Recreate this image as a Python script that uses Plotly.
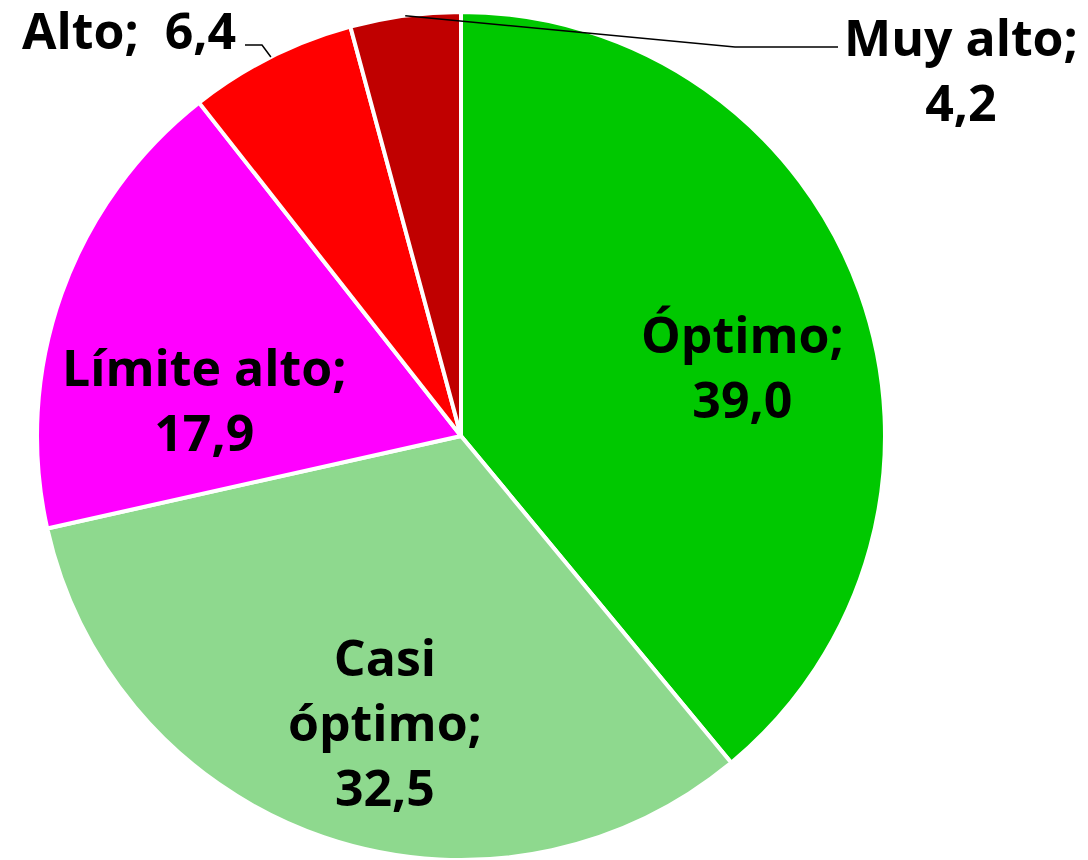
import math
import plotly.graph_objects as go

# data
labels = ["Óptimo", "Casi óptimo", "Límite alto", "Alto", "Muy alto"]
values = [39.0, 32.5, 17.9, 6.4, 4.2]
colors = ["#00C800", "#8ED98E", "#FF00FF", "#FF0000", "#C00000"]
label_texts = ["Óptimo;<br>39,0", "Casi<br>óptimo;<br>32,5", "Límite alto;<br>17,9",
               "Alto;&nbsp; 6,4", "Muy alto;<br>4,2"]

W, H = 1088, 860
OFF = 8  # body margin of the page shifts the figure
CX, CY, R = 461, 436, 424  # pie geometry in page pixels


def px_x(x):
    return (x - OFF) / W


def px_y(y):
    return 1 - (y - OFF) / H


fig = go.Figure(
    go.Pie(
        labels=labels,
        values=values,
        sort=False,
        direction="clockwise",
        rotation=0,
        marker=dict(colors=colors, line=dict(color="white", width=4)),
        textinfo="none",
        hoverinfo="label+value",
        showlegend=False,
        domain=dict(x=[px_x(CX - R), px_x(CX + R)], y=[px_y(CY + R), px_y(CY - R)]),
    )
)

# label positions (text centre / anchor, in page pixels)
label_pos = [
    (742, 366, "center"),
    (385, 722, "center"),
    (204, 400, "center"),
    (20, 30, "left"),
    (961, 70, "center"),
]
font = dict(family="Open Sans, sans-serif", size=50, color="black", weight="bold")
for txt, (x, y, anchor) in zip(label_texts, label_pos):
    fig.add_annotation(
        x=px_x(x), y=px_y(y), xref="paper", yref="paper",
        text=txt, showarrow=False, xanchor=anchor, yanchor="middle",
        align="center", font=font,
    )


# leader lines to slice mid-points on the rim
def rim_point(idx):
    start = sum(values[:idx])
    mid = (start + values[idx] / 2) / sum(values) * 2 * math.pi
    return CX + R * math.sin(mid), CY - R * math.cos(mid)


ax, ay = rim_point(3)
mx, my = rim_point(4)
leaders = [
    [(245, 45), (262, 45), (ax, ay)],
    [(mx, my), (735, 47), (838, 47)],
]
for pts in leaders:
    path = "M " + " L ".join(f"{px_x(x)},{px_y(y)}" for x, y in pts)
    fig.add_shape(type="path", path=path, xref="paper", yref="paper",
                  line=dict(color="black", width=1.5))

fig.update_layout(
    width=W, height=H,
    margin=dict(l=0, r=0, t=0, b=0),
    paper_bgcolor="white",
    plot_bgcolor="white",
)

fig.write_html("out.html")
